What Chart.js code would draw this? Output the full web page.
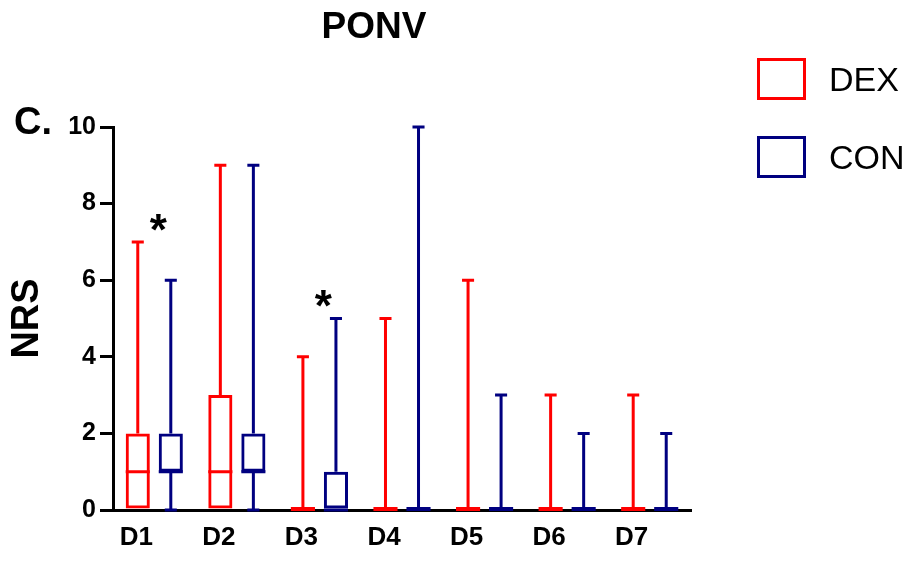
<!DOCTYPE html>
<html>
<head>
<meta charset="utf-8">
<script src="https://cdn.jsdelivr.net/npm/chart.js@4.4.0/dist/chart.umd.min.js"></script>
<style>
  html, body { margin: 0; padding: 0; background: #fff; }
</style>
</head>
<body>
<canvas id="ponv-chart" width="913" height="568"></canvas>
<script>
// Days on the x axis
const days = ["D1", "D2", "D3", "D4", "D5", "D6", "D7"];

// DEX group: min, Q1, median, Q3, max
const dexMin = [0, 0, 0, 0, 0, 0, 0];
const dexQ1  = [0, 0, 0, 0, 0, 0, 0];
const dexMed = [1, 1, 0, 0, 0, 0, 0];
const dexQ3  = [2, 3, 0, 0, 0, 0, 0];
const dexMax = [7, 9, 4, 5, 6, 3, 3];

// CON group: min, Q1, median, Q3, max
const conMin = [0, 0, 0, 0, 0, 0, 0];
const conQ1  = [1, 1, 0, 0, 0, 0, 0];
const conMed = [1, 1, 0, 0, 0, 0, 0];
const conQ3  = [2, 2, 1, 0, 0, 0, 0];
const conMax = [6, 9, 5, 10, 3, 2, 2];

const yTicks = [0, 2, 4, 6, 8, 10];

// significance marks
const starDays = ["D1", "D3"];
const starValues = [7.57, 5.6];

const RED = "#ff0000";
const NAVY = "#000080";
const FONT = "'Liberation Sans', Arial, Helvetica, sans-serif";

let boxData = (q1, q3) => q1.map((v, i) => [v, q3[i]]);

// whiskers, medians, caps and flat boxes
const boxWhiskers = {
    id: "boxWhiskers",
    afterDatasetsDraw(chart) {
        const ctx = chart.ctx;
        const y = chart.scales.y;
        chart.data.datasets.forEach((ds, di) => {
            const meta = chart.getDatasetMeta(di);
            meta.data.forEach((bar, i) => {
                const x = bar.x, w = bar.width;
                const pMin = y.getPixelForValue(ds.mins[i]);
                const pQ1 = y.getPixelForValue(ds.data[i][0]);
                const pQ3 = y.getPixelForValue(ds.data[i][1]);
                const pMax = y.getPixelForValue(ds.maxs[i]);
                const pMed = y.getPixelForValue(ds.meds[i]);
                ctx.save();
                ctx.strokeStyle = ds.borderColor;
                ctx.lineWidth = 3;
                ctx.beginPath();
                if (ds.maxs[i] > ds.data[i][1]) {
                    ctx.moveTo(x, pQ3);
                    ctx.lineTo(x, pMax);
                    ctx.moveTo(x - w / 4, pMax);
                    ctx.lineTo(x + w / 4, pMax);
                }
                if (ds.mins[i] < ds.data[i][0]) {
                    ctx.moveTo(x, pQ1);
                    ctx.lineTo(x, pMin);
                    ctx.moveTo(x - w / 4, pMin);
                    ctx.lineTo(x + w / 4, pMin);
                }
                if (ds.data[i][1] > ds.data[i][0]) {
                    ctx.moveTo(x - w / 2, pMed);
                    ctx.lineTo(x + w / 2, pMed);
                }
                ctx.stroke();
                if (ds.data[i][1] == ds.data[i][0]) {
                    ctx.lineWidth = 4;
                    ctx.beginPath();
                    ctx.moveTo(x - w / 2, pQ1 - 1);
                    ctx.lineTo(x + w / 2, pQ1 - 1);
                    ctx.stroke();
                }
                ctx.restore();
            });
        });
    }
};

// title, panel letter, legend and stars
const decorations = {
    id: "decorations",
    afterDraw(chart) {
        const ctx = chart.ctx;
        const x = chart.scales.x, y = chart.scales.y;
        ctx.save();
        ctx.fillStyle = "#000";
        ctx.textBaseline = "alphabetic";

        ctx.font = "bold 37px " + FONT;
        ctx.textAlign = "center";
        ctx.fillText("PONV", 374, 38);

        ctx.textAlign = "left";
        ctx.font = "bold 38px " + FONT;
        ctx.fillText("C.", 14, 134);

        // legend
        ctx.lineWidth = 3;
        ctx.strokeStyle = RED;
        ctx.strokeRect(758.5, 59.5, 46, 39);
        ctx.strokeStyle = NAVY;
        ctx.strokeRect(758.5, 137.5, 46, 39);
        ctx.font = "34px " + FONT;
        ctx.fillText("DEX", 829, 91);
        ctx.fillText("CON", 829, 169);

        // stars
        ctx.textAlign = "center";
        ctx.font = "bold 44px " + FONT;
        starDays.forEach((d, i) => {
            const px = x.getPixelForValue(days.indexOf(d)) + 4;
            const py = y.getPixelForValue(starValues[i]) + 25;
            ctx.fillText("*", px, py);
        });
        ctx.restore();
    }
};

let cargarGrafico = () => {
    const ctx = document.querySelector("#ponv-chart");
    new Chart(ctx, {
        type: "bar",
        data: {
            labels: days,
            datasets: [
                {
                    label: "DEX",
                    data: boxData(dexQ1, dexQ3),
                    mins: dexMin, meds: dexMed, maxs: dexMax,
                    backgroundColor: "rgba(255,255,255,0)",
                    borderColor: RED,
                    borderWidth: 3,
                    borderSkipped: false,
                    clip: false
                },
                {
                    label: "CON",
                    data: boxData(conQ1, conQ3),
                    mins: conMin, meds: conMed, maxs: conMax,
                    backgroundColor: "rgba(255,255,255,0)",
                    borderColor: NAVY,
                    borderWidth: 3,
                    borderSkipped: false,
                    clip: false
                }
            ]
        },
        options: {
            responsive: false,
            animation: false,
            devicePixelRatio: 1,
            layout: { padding: { top: 127, right: 222, bottom: 0, left: 0 } },
            datasets: {
                bar: { categoryPercentage: 0.8, barPercentage: 0.73 }
            },
            plugins: {
                legend: { display: false },
                tooltip: { enabled: false }
            },
            scales: {
                x: {
                    type: "category",
                    grid: { display: false, drawTicks: false },
                    border: { color: "#000", width: 3 },
                    ticks: {
                        color: "#000",
                        font: { family: FONT, size: 26, weight: "bold" },
                        padding: 12,
                        labelOffset: -18,
                        maxRotation: 0
                    },
                    afterFit: (s) => { s.height = 58; }
                },
                y: {
                    min: 0,
                    max: 10,
                    afterBuildTicks: (s) => { s.ticks = yTicks.map(v => ({ value: v })); },
                    grid: {
                        drawOnChartArea: false,
                        drawTicks: true,
                        tickLength: 13,
                        lineWidth: 3,
                        color: "#000"
                    },
                    border: { color: "#000", width: 3 },
                    ticks: {
                        color: "#000",
                        font: { family: FONT, size: 25, weight: "bold" },
                        padding: 4
                    },
                    title: {
                        display: true,
                        text: "NRS",
                        color: "#000",
                        font: { family: FONT, size: 38, weight: "bold" },
                        padding: { top: 5, bottom: 0 }
                    },
                    afterFit: (s) => { s.width = 113; }
                }
            }
        },
        plugins: [boxWhiskers, decorations]
    });
};

window.addEventListener("DOMContentLoaded", (event) => {
    cargarGrafico();
});
</script>
</body>
</html>
